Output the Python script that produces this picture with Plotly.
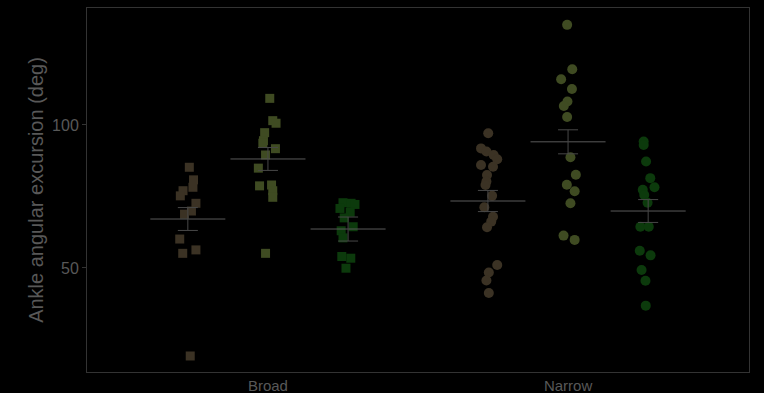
import plotly.graph_objects as go

# Stance-width conditions on the x axis
conditions = ["Broad", "Narrow"]
groups = ["A", "B", "C"]

# Ankle angular excursion (deg), one list per condition/group
broad_a = [85.2, 80.8, 78.2, 77.0, 75.2, 72.6, 69.9, 68.8, 60.1, 55.1, 56.3, 19.2]
broad_b = [109.3, 101.5, 100.6, 97.3, 94.5, 93.6, 91.7, 89.5, 84.9, 78.7, 79.0, 77.0, 74.7, 55.1]
broad_c = [72.8, 72.6, 72.2, 70.8, 69.5, 67.5, 64.4, 63.0, 60.5, 54.0, 53.4, 49.9]
narrow_a = [97.1, 91.8, 90.7, 89.5, 88.0, 86.0, 85.4, 82.5, 80.2, 79.0, 75.2, 71.2,
            67.9, 66.2, 64.2, 51.0, 48.4, 45.6, 41.2]
narrow_b = [135.0, 119.5, 116.0, 112.6, 108.2, 106.6, 102.8, 88.7, 82.6, 79.1, 76.8,
            72.6, 61.3, 59.8]
narrow_c = [94.2, 93.0, 87.2, 81.4, 78.2, 77.3, 75.5, 72.8, 64.4, 64.4, 56.0, 54.4,
            49.3, 45.5, 36.8]

# Group means and standard errors
means = {"Broad": [67.1, 88.1, 63.6], "Narrow": [73.4, 94.1, 69.9]}
sems = {"Broad": [4.0, 4.0, 4.2], "Narrow": [3.7, 4.2, 4.0]}

# Horizontal jitter of the individual points (category units)
jit_broad_a = [0.005, 0.019, 0.017, -0.016, -0.025, 0.027, 0.012, -0.011, -0.027, -0.017, 0.027, 0.008]
jit_broad_b = [0.006, 0.016, 0.027, -0.011, -0.015, -0.017, 0.025, -0.008, -0.032, -0.028, 0.012,
               0.016, 0.016, -0.008]
jit_broad_c = [-0.017, 0.010, 0.023, -0.027, 0.007, -0.013, 0.017, -0.023, -0.017, -0.021, 0.009, -0.007]
jit_narrow_a = [0.001, -0.023, -0.005, 0.019, 0.031, -0.023, 0.017, -0.003, -0.005, -0.008, 0.014,
                -0.012, 0.017, 0.011, -0.003, 0.031, 0.003, -0.005, 0.003]
jit_narrow_b = [-0.003, 0.014, -0.023, 0.013, -0.002, -0.014, -0.003, 0.008, 0.026, -0.004, 0.022,
                0.008, -0.015, 0.022]
jit_narrow_c = [-0.015, -0.015, -0.007, 0.007, 0.021, -0.018, -0.013, -0.002, -0.026, 0.002, -0.028,
                0.008, -0.022, -0.009, -0.008]

data = {
    "Broad": [broad_a, broad_b, broad_c],
    "Narrow": [narrow_a, narrow_b, narrow_c],
}
jitter = {
    "Broad": [jit_broad_a, jit_broad_b, jit_broad_c],
    "Narrow": [jit_narrow_a, jit_narrow_b, jit_narrow_c],
}

group_colors = ["#3b3224", "#3f4b22", "#0c3a0c"]
symbols = {"Broad": "square", "Narrow": "circle"}
marker_size = {"Broad": 9, "Narrow": 10}
offsets = [-0.267, 0.0, 0.267]
half_len = 0.125

fig = go.Figure()
for ci, cond in enumerate(conditions):
    center = ci + 1
    for gi in range(3):
        gx = center + offsets[gi]
        vals = data[cond][gi]
        xs = [gx + j for j in jitter[cond][gi]]
        fig.add_trace(go.Scatter(
            x=xs, y=vals, mode="markers",
            marker=dict(symbol=symbols[cond], size=marker_size[cond],
                        color=group_colors[gi], line=dict(width=0)),
            showlegend=False, hoverinfo="y",
        ))
        # mean line
        m = means[cond][gi]
        fig.add_trace(go.Scatter(
            x=[gx - half_len, gx + half_len], y=[m, m], mode="lines",
            line=dict(color="#5a5a5a", width=1), showlegend=False, hoverinfo="skip",
        ))
        # standard error bar
        fig.add_trace(go.Scatter(
            x=[gx], y=[m], mode="markers",
            marker=dict(size=0.1, color="rgba(0,0,0,0)"),
            error_y=dict(type="data", array=[sems[cond][gi]], visible=True,
                         color="#484848", thickness=1, width=10),
            showlegend=False, hoverinfo="skip",
        ))

fig.update_layout(
    width=764, height=393,
    margin=dict(l=87, r=15, t=8, b=21),
    paper_bgcolor="#000000", plot_bgcolor="#000000",
    font=dict(family="Liberation Sans, Arial, sans-serif", color="#555555"),
    xaxis=dict(
        range=[0.397, 2.603], tickvals=[1, 2], ticktext=conditions,
        showgrid=False, zeroline=False, showline=True, mirror=True, automargin=False,
        linecolor="#333333", linewidth=1, ticks="",
        tickfont=dict(size=15, color="#585858"),
    ),
    yaxis=dict(
        range=[13.6, 140.9], tickvals=[50, 100],
        showgrid=False, zeroline=False, showline=True, mirror=True, automargin=False,
        linecolor="#333333", linewidth=1, ticks="outside", ticklen=4,
        tickcolor="#333333", tickfont=dict(size=16, color="#585858"),
        title=dict(text="Ankle angular excursion (deg)", font=dict(size=20, color="#585858"),
                   standoff=3),
    ),
)

fig.write_html("out.html")
